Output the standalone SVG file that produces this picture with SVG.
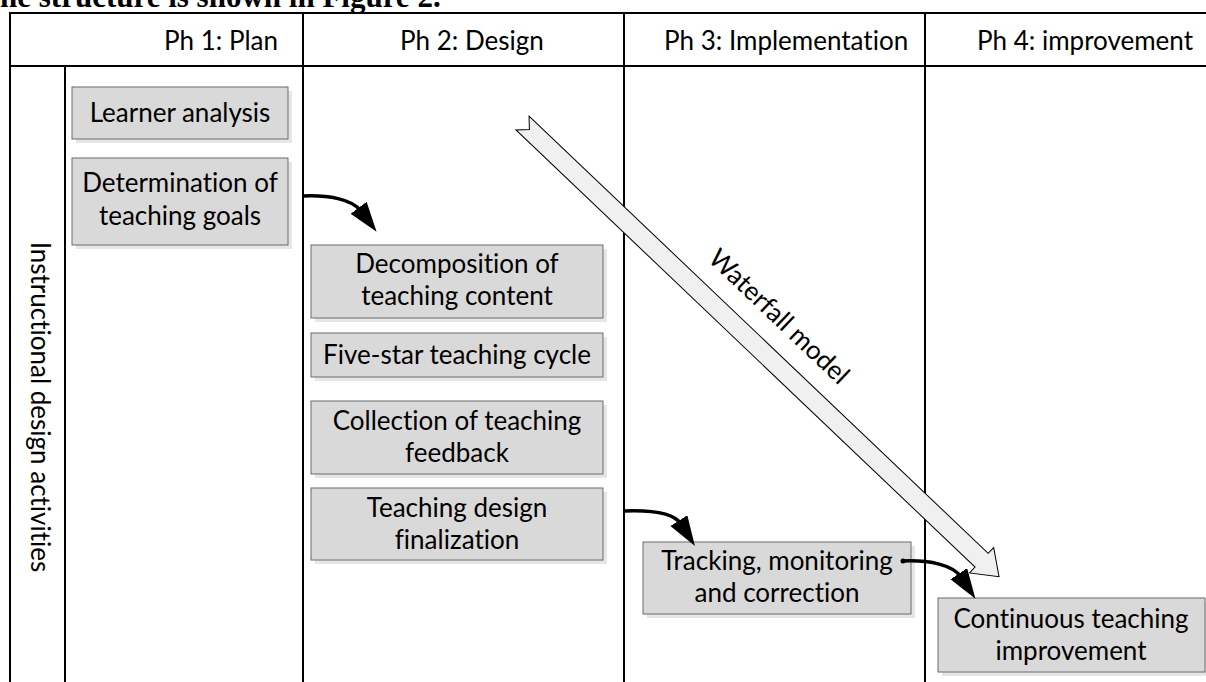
<svg xmlns="http://www.w3.org/2000/svg" width="1206" height="682" viewBox="0 0 1206 682">
  <style>
    .grid { stroke: #000; stroke-width: 2; fill: none; }
    .box { fill: #d9d9d9; stroke: #6b6b6b; stroke-width: 1; }
    .shadow { fill: #e6e6e6; }
    .lbl { font-family: Lato, "Liberation Sans", sans-serif; font-size: 26px; fill: #000; font-variant-ligatures: none; }
    .mid { text-anchor: middle; }
    .conn { fill: none; stroke: #000; stroke-width: 3.5; }
    .caption { font-family: "Liberation Serif", serif; font-size: 31px; font-weight: bold; fill: #000; }
  </style>
  <defs>
    <marker id="head" markerUnits="userSpaceOnUse" markerWidth="32" markerHeight="22" refX="4" refY="10" orient="auto">
      <path d="M0,0 L30,10 L0,20 z" fill="#000"/>
    </marker>
  </defs>

  <rect width="1206" height="682" fill="#fff"/>

  <!-- running text above the figure -->
  <text class="caption" x="0" y="7">he structure is shown in Figure 2.</text>

  <!-- swimlane table -->
  <g id="table">
    <line class="grid" x1="10" y1="13" x2="1206" y2="13"/>
    <line class="grid" x1="10" y1="66" x2="1206" y2="66"/>
    <line class="grid" x1="10" y1="12" x2="10" y2="682"/>
    <line class="grid" x1="65" y1="66" x2="65" y2="682"/>
    <line class="grid" x1="303" y1="12" x2="303" y2="682"/>
    <line class="grid" x1="624" y1="12" x2="624" y2="682"/>
    <line class="grid" x1="925" y1="12" x2="925" y2="682"/>
    <text class="lbl" x="164" y="50">Ph 1: Plan</text>
    <text class="lbl" x="400" y="50">Ph 2: Design</text>
    <text class="lbl" x="664" y="50">Ph 3: Implementation</text>
    <text class="lbl" x="977" y="50">Ph 4: improvement</text>
    <text class="lbl mid" transform="translate(31,407) rotate(90)">Instructional design activities</text>
  </g>

  <!-- waterfall block arrow -->
  <g id="waterfall">
    <polygon transform="translate(522.5,123) rotate(43.6)" points="0,-9.5 634,-9.5 634,-17.5 658,0 634,17.5 634,9.5 0,9.5 9.5,0" fill="#f0f0f0" stroke="#000" stroke-width="1"/>
    <text class="lbl mid" transform="translate(773,323) rotate(43.6)">Waterfall model</text>
  </g>

  <!-- activity nodes -->
  <g id="learner-analysis">
    <rect class="shadow" x="76" y="91" width="216" height="52"/>
    <rect class="box" x="72" y="87" width="216" height="52"/>
    <text class="lbl mid" x="180" y="122">Learner analysis</text>
  </g>
  <g id="teaching-goals">
    <rect class="shadow" x="76" y="162" width="216" height="87"/>
    <rect class="box" x="72" y="158" width="216" height="87"/>
    <text class="lbl mid" x="180" y="192">Determination of</text>
    <text class="lbl mid" x="180" y="225">teaching goals</text>
  </g>
  <g id="content-decomposition">
    <rect class="shadow" x="315" y="249" width="292" height="73"/>
    <rect class="box" x="311" y="245" width="292" height="73"/>
    <text class="lbl mid" x="457" y="273">Decomposition of</text>
    <text class="lbl mid" x="457" y="305">teaching content</text>
  </g>
  <g id="five-star-cycle">
    <rect class="shadow" x="315" y="337" width="292" height="44"/>
    <rect class="box" x="311" y="333" width="292" height="44"/>
    <text class="lbl mid" x="457" y="364">Five-star teaching cycle</text>
  </g>
  <g id="feedback-collection">
    <rect class="shadow" x="315" y="405" width="292" height="73"/>
    <rect class="box" x="311" y="401" width="292" height="73"/>
    <text class="lbl mid" x="457" y="430">Collection of teaching</text>
    <text class="lbl mid" x="457" y="462">feedback</text>
  </g>
  <g id="design-finalization">
    <rect class="shadow" x="315" y="492" width="292" height="72"/>
    <rect class="box" x="311" y="488" width="292" height="72"/>
    <text class="lbl mid" x="457" y="517">Teaching design</text>
    <text class="lbl mid" x="457" y="549">finalization</text>
  </g>
  <g id="tracking">
    <rect class="shadow" x="647" y="546" width="268" height="72"/>
    <rect class="box" x="643" y="542" width="268" height="72"/>
    <text class="lbl mid" x="777" y="570">Tracking, monitoring</text>
    <text class="lbl mid" x="777" y="602">and correction</text>
  </g>
  <g id="continuous-improvement">
    <rect class="shadow" x="942" y="602" width="267" height="74"/>
    <rect class="box" x="938" y="598" width="267" height="74"/>
    <text class="lbl mid" x="1071" y="628">Continuous teaching</text>
    <text class="lbl mid" x="1071" y="660">improvement</text>
  </g>

  <!-- connectors -->
  <g id="connectors">
    <path class="conn" d="M303,196 C328,195 352,199 361,211" marker-end="url(#head)"/>
    <path class="conn" d="M624,511 C650,510 674,513 681,524" marker-end="url(#head)"/>
    <circle cx="903" cy="561" r="2.5" fill="#000"/>
    <path class="conn" d="M903,561 C930,560 953,565 961,577" marker-end="url(#head)"/>
  </g>
</svg>
